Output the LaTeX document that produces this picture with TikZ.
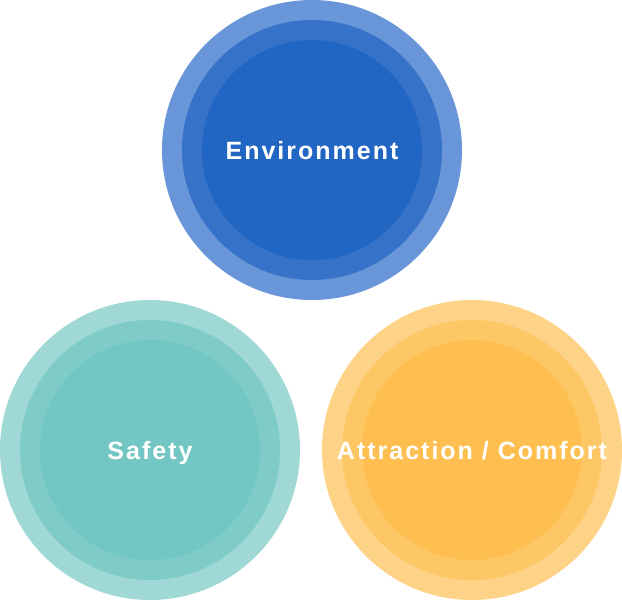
\documentclass[tikz,border=0pt]{standalone}
\usepackage{fontspec}
\setmainfont{Liberation Sans}[LetterSpace=8]
\usepackage{tikz}
\usetikzlibrary{positioning}
\definecolor{envouter}{RGB}{104,150,216}
\definecolor{envmiddle}{RGB}{54,115,200}
\definecolor{envinner}{RGB}{34,102,196}
\definecolor{safeouter}{RGB}{160,216,214}
\definecolor{safemiddle}{RGB}{126,203,200}
\definecolor{safeinner}{RGB}{114,198,195}
\definecolor{comfouter}{RGB}{254,210,135}
\definecolor{comfmiddle}{RGB}{254,199,102}
\definecolor{comfinner}{RGB}{254,191,80}

\begin{document}
\begin{tikzpicture}[
    ring/.style={circle, inner sep=0pt, outer sep=0pt, draw=none},
    outerring/.style={ring, minimum size=300pt},
    middlering/.style={ring, minimum size=260pt},
    innerring/.style={ring, minimum size=220pt},
    lbl/.style={text=white, font=\fontsize{25pt}{30pt}\selectfont\bfseries, inner sep=0pt, text height=18pt, text depth=0pt}
]
    \useasboundingbox (0pt,0pt) rectangle (622pt,-600pt);

    \node[outerring, fill=envouter] (env) at (312pt,-150pt) {};
    \node[middlering, fill=envmiddle] (envmid) at (env.center) {};
    \node[innerring, fill=envinner] (envin) at (env.center) {};
    \node[lbl] (envlbl) at (env.center) {Environment};

    \node[outerring, fill=safeouter] (safe) at (150pt,-450pt) {};
    \node[middlering, fill=safemiddle] (safemid) at (safe.center) {};
    \node[innerring, fill=safeinner] (safein) at (safe.center) {};
    \node[lbl] (safelbl) at (safe.center) {Safety};

    \node[outerring, fill=comfouter] (comf) at (472pt,-450pt) {};
    \node[middlering, fill=comfmiddle] (comfmid) at (comf.center) {};
    \node[innerring, fill=comfinner] (comfin) at (comf.center) {};
    \node[lbl] (comflbl) at (comf.center) {Attraction / Comfort};
\end{tikzpicture}
\end{document}
